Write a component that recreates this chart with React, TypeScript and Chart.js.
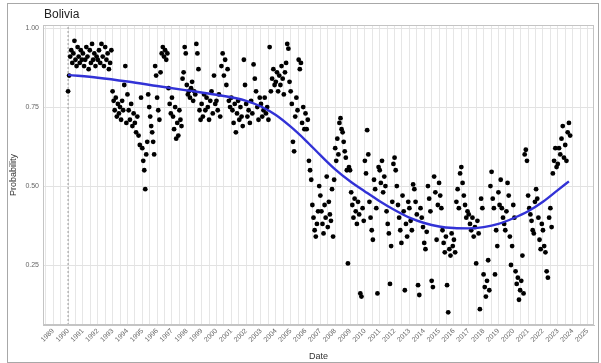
import React, { useEffect, useRef } from 'react';
import { Chart, registerables } from 'chart.js';
Chart.register(...registerables);

const years = [1990, 1991, 1992, 1993, 1994, 1995, 1996, 1997, 1998, 1999, 2000, 2001, 2002, 2003, 2004, 2005, 2006, 2007, 2008, 2009, 2010, 2011, 2012, 2013, 2014, 2015, 2016, 2017, 2018, 2019, 2020, 2021, 2022, 2023];

const v1990 = [0.80, 0.85, 0.91, 0.93, 0.89, 0.92, 0.96, 0.90, 0.88, 0.94, 0.91, 0.89, 0.93, 0.90];
const v1991 = [0.92, 0.88, 0.90, 0.94, 0.91, 0.87, 0.93, 0.89, 0.95, 0.90, 0.92, 0.88, 0.91];
const v1992 = [0.90, 0.93, 0.89, 0.95, 0.91, 0.88, 0.94, 0.90, 0.92, 0.87, 0.89, 0.93];
const v1993 = [0.80, 0.77, 0.74, 0.78, 0.72, 0.76, 0.73, 0.75, 0.71, 0.77, 0.74, 0.82, 0.88, 0.70];
const v1994 = [0.79, 0.74, 0.71, 0.76, 0.69, 0.73, 0.70, 0.67, 0.72, 0.66, 0.63, 0.78];
const v1995 = [0.62, 0.58, 0.55, 0.49, 0.60, 0.64, 0.79, 0.75, 0.72, 0.69, 0.67, 0.64, 0.60, 0.88, 0.85];
const v1996 = [0.78, 0.74, 0.71, 0.86, 0.92, 0.94, 0.91, 0.93, 0.90, 0.92, 0.81, 0.76, 0.73];
const v1997 = [0.78, 0.72, 0.68, 0.75, 0.65, 0.70, 0.66, 0.74, 0.71, 0.69, 0.84, 0.86, 0.94, 0.92];
const v1998 = [0.82, 0.79, 0.80, 0.78, 0.81, 0.83, 0.77, 0.80, 0.79, 0.95, 0.92, 0.87, 0.74, 0.71];
const v1999 = [0.76, 0.72, 0.79, 0.74, 0.78, 0.75, 0.71, 0.77, 0.80, 0.73, 0.85, 0.76];
const v2000 = [0.77, 0.74, 0.79, 0.72, 0.88, 0.92, 0.85, 0.90, 0.82, 0.87, 0.77, 0.75];
const v2001 = [0.78, 0.74, 0.70, 0.76, 0.67, 0.73, 0.77, 0.71, 0.75, 0.72, 0.69, 0.90, 0.82];
const v2002 = [0.76, 0.72, 0.74, 0.70, 0.77, 0.73, 0.885, 0.84, 0.80, 0.75, 0.71, 0.78];
const v2003 = [0.76, 0.72, 0.74, 0.78, 0.73, 0.75, 0.71, 0.94, 0.80, 0.84, 0.87, 0.82];
const v2004 = [0.83, 0.86, 0.80, 0.85, 0.82, 0.88, 0.84, 0.79, 0.86, 0.89, 0.95, 0.935, 0.83];
const v2005 = [0.80, 0.76, 0.64, 0.61, 0.72, 0.78, 0.74, 0.90, 0.87, 0.89, 0.70, 0.75, 0.68];
const v2006 = [0.73, 0.68, 0.71, 0.58, 0.55, 0.52, 0.44, 0.40, 0.36, 0.34, 0.38, 0.42, 0.50];
const v2007 = [0.47, 0.42, 0.38, 0.35, 0.44, 0.40, 0.53, 0.37, 0.45, 0.41, 0.39, 0.49, 0.34, 0.52];
const v2008 = [0.62, 0.58, 0.65, 0.60, 0.70, 0.715, 0.68, 0.67, 0.64, 0.61, 0.59, 0.55, 0.255, 0.56];
const v2009 = [0.55, 0.48, 0.44, 0.40, 0.46, 0.42, 0.38, 0.45, 0.41, 0.16, 0.15, 0.43, 0.39];
const v2010 = [0.58, 0.54, 0.677, 0.60, 0.45, 0.40, 0.36, 0.33, 0.52, 0.49, 0.43, 0.16, 0.56];
const v2011 = [0.55, 0.51, 0.58, 0.48, 0.53, 0.50, 0.42, 0.38, 0.35, 0.19, 0.31, 0.45, 0.57];
const v2012 = [0.59, 0.55, 0.50, 0.44, 0.40, 0.36, 0.32, 0.47, 0.42, 0.17, 0.38, 0.34, 0.45];
const v2013 = [0.43, 0.39, 0.36, 0.505, 0.49, 0.45, 0.41, 0.186, 0.155, 0.43, 0.40, 0.37];
const v2014 = [0.32, 0.30, 0.355, 0.50, 0.46, 0.42, 0.20, 0.18, 0.53, 0.48, 0.33, 0.44];
const v2015 = [0.51, 0.47, 0.43, 0.36, 0.32, 0.29, 0.34, 0.186, 0.10, 0.30, 0.28, 0.35, 0.31];
const v2016 = [0.33, 0.29, 0.45, 0.49, 0.43, 0.54, 0.56, 0.51, 0.47, 0.44, 0.40, 0.42];
const v2017 = [0.41, 0.38, 0.36, 0.40, 0.34, 0.37, 0.255, 0.39, 0.35, 0.11, 0.46, 0.43];
const v2018 = [0.22, 0.18, 0.15, 0.20, 0.265, 0.17, 0.50, 0.545, 0.46, 0.43, 0.22, 0.36, 0.31];
const v2019 = [0.48, 0.44, 0.52, 0.43, 0.40, 0.38, 0.36, 0.42, 0.51, 0.47, 0.34, 0.25, 0.31];
const v2020 = [0.44, 0.40, 0.23, 0.19, 0.21, 0.14, 0.17, 0.20, 0.28, 0.16, 0.60, 0.615, 0.58];
const v2021 = [0.47, 0.43, 0.41, 0.39, 0.36, 0.35, 0.45, 0.49, 0.46, 0.40, 0.33, 0.30, 0.38];
const v2022 = [0.36, 0.31, 0.29, 0.23, 0.21, 0.40, 0.43, 0.37, 0.54, 0.58, 0.62, 0.56];
const v2023 = [0.57, 0.62, 0.60, 0.65, 0.69, 0.59, 0.63, 0.58, 0.67, 0.70, 0.66];

const yearValues = [v1990, v1991, v1992, v1993, v1994, v1995, v1996, v1997, v1998, v1999, v2000, v2001, v2002, v2003, v2004, v2005, v2006, v2007, v2008, v2009, v2010, v2011, v2012, v2013, v2014, v2015, v2016, v2017, v2018, v2019, v2020, v2021, v2022, v2023];

const smoothX = [1990, 1992, 1994, 1996, 1998, 2000, 2002, 2003, 2004, 2005, 2006, 2007, 2008, 2009, 2010, 2011, 2012, 2013, 2014, 2015, 2016, 2017, 2018, 2019, 2020, 2021, 2022, 2023, 2023.75];
const smoothY = [0.852, 0.843, 0.831, 0.817, 0.803, 0.789, 0.770, 0.752, 0.725, 0.688, 0.645, 0.598, 0.553, 0.515, 0.483, 0.452, 0.424, 0.400, 0.383, 0.372, 0.367, 0.366, 0.370, 0.380, 0.398, 0.420, 0.450, 0.487, 0.515];

const startMarkYear = 1990;
const xMin = 1988.31;
const xMax = 2025.44;
const yMin = 0.06;
const yMax = 1.01;
const titleText = 'Bolivia';

const framePlugin = {
  id: 'frameAndTitle',
  afterDraw(chart: any) {
    const { ctx, chartArea: a } = chart;
    ctx.save();
    ctx.strokeStyle = '#c4c4c4';
    ctx.lineWidth = 1;
    ctx.strokeRect(Math.round(a.left) + 0.5, Math.round(a.top) + 0.5, Math.round(a.right - a.left) - 1, Math.round(a.bottom - a.top) - 1);
    ctx.fillStyle = '#222';
    ctx.font = '12px "Liberation Sans", Arial, sans-serif';
    ctx.textBaseline = 'middle';
    ctx.textAlign = 'left';
    ctx.fillText(titleText, a.left + 1, a.top - 10);
    ctx.restore();
  },
};

export default function App() {
  const ref = useRef<HTMLCanvasElement>(null);
  useEffect(() => {
    if (!ref.current) return;
    const points: { x: number; y: number }[] = [];
    years.forEach((yr, k) => {
      const vals = yearValues[k];
      const n = Math.max(12, vals.length);
      vals.forEach((v, i) => points.push({ x: yr + i / n, y: v }));
    });
    const smooth = smoothX.map((x, i) => ({ x, y: smoothY[i] }));
    const chart = new Chart(ref.current, {
      type: 'scatter',
      data: {
        datasets: [
          {
            type: 'line',
            data: smooth,
            borderColor: '#3232d6',
            borderWidth: 2.4,
            pointRadius: 0,
            cubicInterpolationMode: 'monotone',
            order: 0,
          } as any,
          {
            data: points,
            backgroundColor: '#000',
            borderWidth: 0,
            pointRadius: 2.4,
            order: 1,
          },
          {
            type: 'line',
            data: [{ x: startMarkYear, y: yMin }, { x: startMarkYear, y: yMax }],
            borderColor: '#9a9a9a',
            borderWidth: 1,
            borderDash: [2, 2],
            pointRadius: 0,
            order: 2,
          } as any,
        ],
      },
      options: {
        responsive: false,
        animation: false,
        devicePixelRatio: 1,
        layout: { padding: { top: 21, right: 0, left: 0, bottom: 0 } },
        plugins: { legend: { display: false }, tooltip: { enabled: false }, title: { display: false } },
        scales: {
          x: {
            type: 'linear',
            min: xMin,
            max: xMax,
            afterFit: (s: any) => { s.height = 37; },
            ticks: {
              stepSize: 0.5,
              includeBounds: false,
              autoSkip: false,
              maxRotation: 45,
              minRotation: 45,
              padding: 2,
              color: '#666',
              font: { size: 7, family: '"Liberation Sans", Arial, sans-serif' },
              callback: (v: any) => (Number.isInteger(v) ? String(v) : ''),
            },
            grid: { color: '#e6e6e6', drawTicks: false, lineWidth: 1 },
            border: { color: '#c4c4c4' },
            title: { display: true, text: 'Date', color: '#333', padding: 0, font: { size: 9, family: '"Liberation Sans", Arial, sans-serif' } },
          },
          y: {
            type: 'linear',
            min: yMin,
            max: yMax,
            afterFit: (s: any) => { s.width = 35; },
            ticks: {
              stepSize: 0.25,
              includeBounds: false,
              padding: 4,
              color: '#666',
              font: { size: 7, family: '"Liberation Sans", Arial, sans-serif' },
              callback: (v: any) => Number(v).toFixed(2),
            },
            grid: { color: '#e2e2e2', drawTicks: false },
            border: { color: '#c4c4c4' },
            title: { display: true, text: 'Probability', color: '#333', padding: 0, font: { size: 9, family: '"Liberation Sans", Arial, sans-serif' } },
          },
        },
      },
      plugins: [framePlugin],
    });
    return () => chart.destroy();
  }, []);
  return (
    <div style={{ position: 'fixed', left: 7, top: 3, width: 592, height: 360, boxSizing: 'border-box', border: '1px solid #a8a8a8', background: '#fff' }}>
      <canvas ref={ref} width={590} height={358} style={{ display: 'block' }} />
    </div>
  );
}
